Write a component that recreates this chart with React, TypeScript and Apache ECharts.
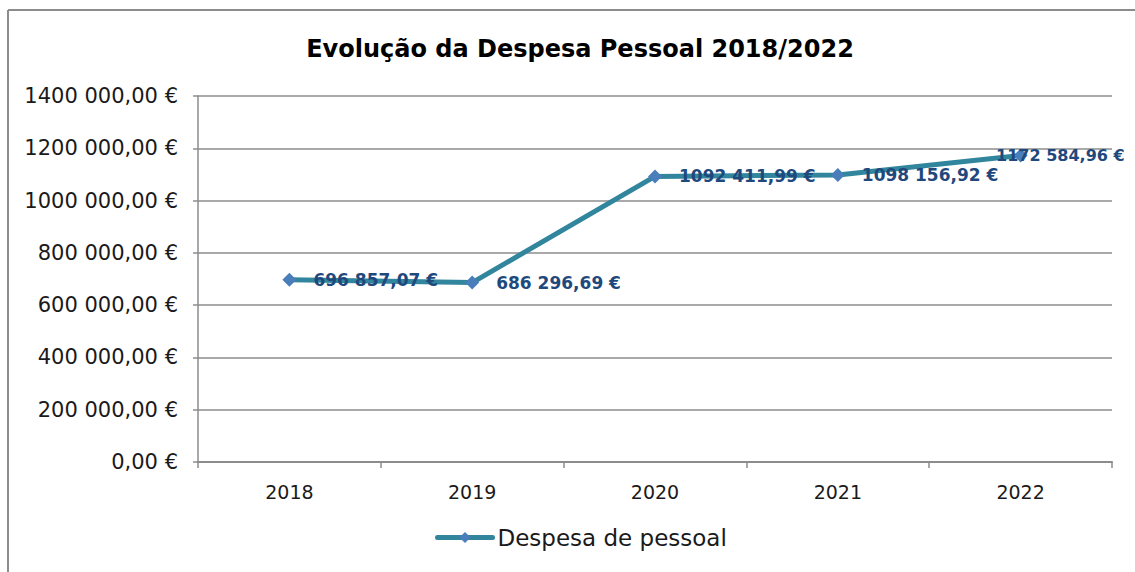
import React, { useEffect, useRef } from "react";
import * as echarts from "echarts";

const categories = ["2018", "2019", "2020", "2021", "2022"];
const values = [696857.07, 686296.69, 1092411.99, 1098156.92, 1172584.96];
const seriesName = "Despesa de pessoal";
const title = "Evolução da Despesa Pessoal 2018/2022";

const fmt = (v: number) => {
  const fixed = v.toFixed(2);
  const [ip, dp] = fixed.split(".");
  let intPart = ip;
  if (intPart.length > 3) {
    intPart = intPart.slice(0, intPart.length - 3) + " " + intPart.slice(intPart.length - 3);
  }
  return intPart + "," + dp + " €";
};

const FONT = "DejaVu Sans";

export default function App() {
  const ref = useRef<HTMLDivElement>(null);
  useEffect(() => {
    if (!ref.current) return;
    const chart = echarts.init(ref.current, null, { renderer: "svg" });
    chart.setOption({
      animation: false,
      backgroundColor: "#ffffff",
      textStyle: { fontFamily: FONT },
      title: {
        text: title,
        left: 575,
        textAlign: "center",
        top: 32,
        textStyle: { fontFamily: FONT, fontSize: 24, fontWeight: "bold", color: "#000000" },
      },
      legend: {
        data: [seriesName],
        bottom: 18,
        left: 430,
        itemWidth: 55,
        itemHeight: 14,
        itemGap: 4,
        lineStyle: { width: 5, cap: "round" },
        textStyle: { fontFamily: FONT, fontSize: 23, color: "#1a1a1a" },
      },
      grid: { left: 198, right: 23, top: 96, bottom: 110, containLabel: false },
      xAxis: {
        type: "category",
        data: categories,
        boundaryGap: true,
        axisLine: { lineStyle: { color: "#8c8c8c", width: 2 } },
        axisTick: { show: true, length: 6, lineStyle: { color: "#8c8c8c", width: 1.5 } },
        axisLabel: { fontFamily: FONT, fontSize: 19, color: "#1a1a1a", margin: 20 },
      },
      yAxis: {
        type: "value",
        min: 0,
        max: 1400000,
        interval: 200000,
        axisLine: { show: true, lineStyle: { color: "#8c8c8c", width: 1.5 } },
        axisTick: { show: true, length: 5, lineStyle: { color: "#8c8c8c", width: 1.5 } },
        splitLine: { lineStyle: { color: "#8c8c8c", width: 1.5 } },
        axisLabel: {
          fontFamily: FONT,
          fontSize: 21,
          color: "#1a1a1a",
          margin: 20,
          formatter: (v: number) => fmt(v),
        },
      },
      series: [
        {
          name: seriesName,
          type: "line",
          data: values.map((v, i) =>
            i === values.length - 1
              ? { value: v, label: { position: "left", offset: [128, 0], fontSize: 16 } }
              : { value: v }
          ),
          symbol: "diamond",
          symbolSize: 14,
          showAllSymbol: true,
          lineStyle: { color: "#31859c", width: 5 },
          itemStyle: { color: "#4a7ebb" },
          label: {
            show: true,
            position: "right",
            distance: 17,
            fontFamily: FONT,
            fontSize: 17,
            fontWeight: "bold",
            color: "#1f497d",
            formatter: (p: any) => fmt(p.value),
          },
        },
      ],
      graphic: [
        { type: "line", shape: { x1: 8, y1: 10, x2: 1135, y2: 10 }, style: { stroke: "#8c8c8c", lineWidth: 2 } },
        { type: "line", shape: { x1: 8, y1: 10, x2: 8, y2: 572 }, style: { stroke: "#8c8c8c", lineWidth: 2 } },
      ],
    });
    return () => chart.dispose();
  }, []);
  return (
    <div
      ref={ref}
      style={{ position: "fixed", left: 0, top: 0, width: 1135, height: 572 }}
    />
  );
}
